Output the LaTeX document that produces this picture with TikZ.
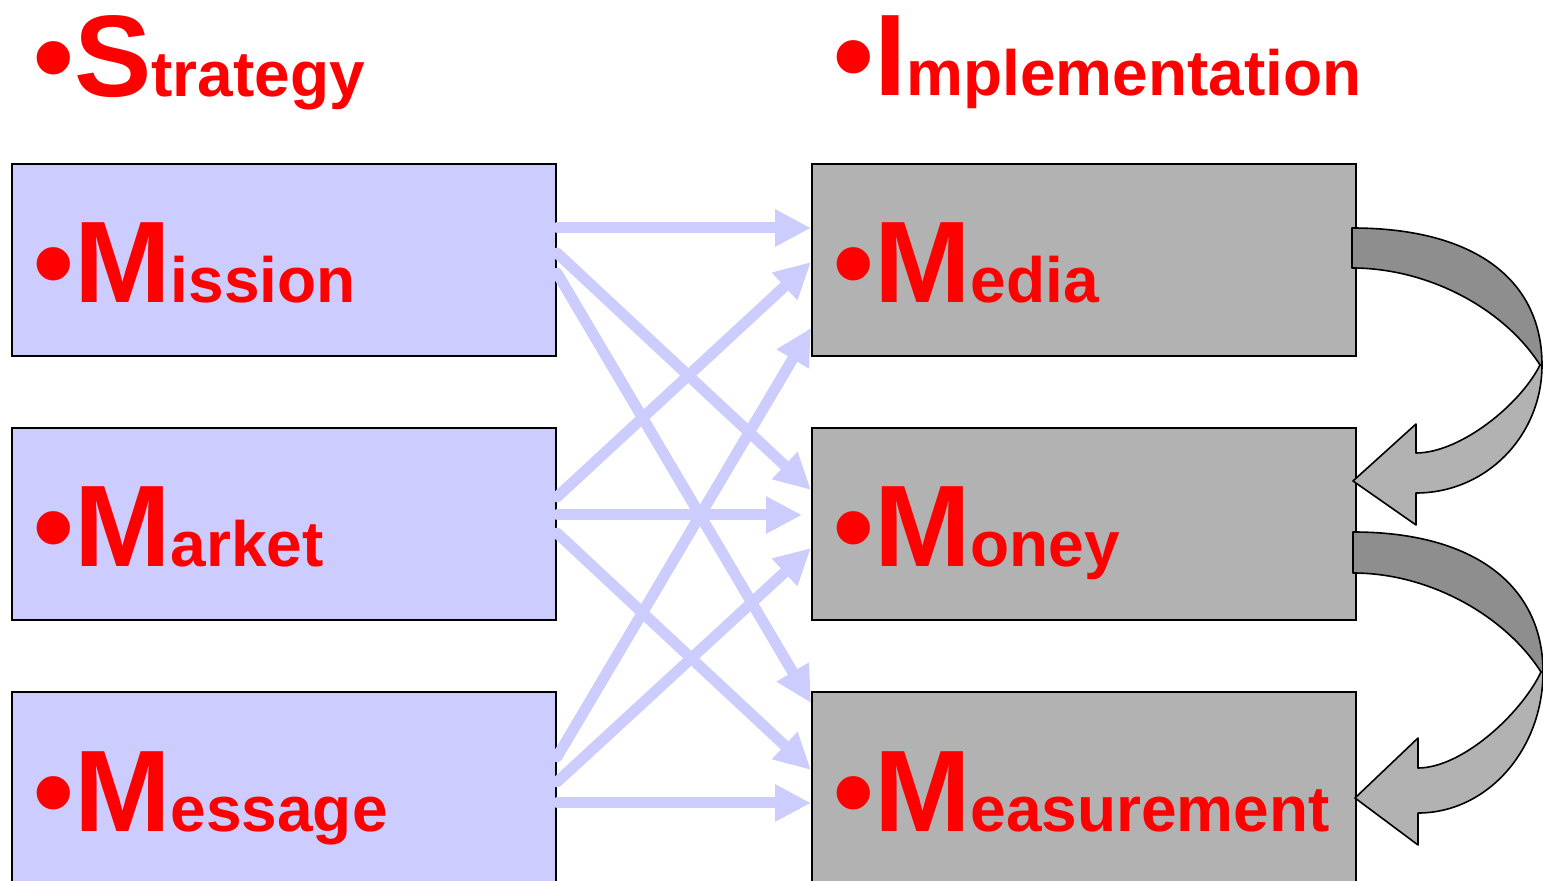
\documentclass[tikz,border=0pt]{standalone}
\usepackage{fontspec}
\setmainfont{Liberation Sans}
\usetikzlibrary{arrows.meta}
\definecolor{stratfill}{HTML}{CCCCFF}
\definecolor{implfill}{HTML}{B2B2B2}
\definecolor{ribbondark}{HTML}{8E8E8E}
\definecolor{txtred}{HTML}{FF0000}
\newcommand{\bigini}[1]{{\fontsize{58pt}{62pt}\selectfont #1}}
\newcommand{\smallrest}[1]{{\fontsize{32pt}{36pt}\selectfont #1}}
\begin{document}
\begin{tikzpicture}[line cap=round,x=0.5pt,y=-0.5pt,
	sbox/.style={draw=black,line width=1pt,fill=stratfill,minimum width=272pt,minimum height=96pt,inner sep=0pt},
	ibox/.style={sbox,fill=implfill},
	word/.style={anchor=base west,inner sep=0pt,text=txtred,font=\bfseries},
	link/.style={draw=stratfill,line width=5.5pt,-{Triangle[length=18pt,width=17.5pt]}},
	ribbon/.style={draw=black,line width=0.8pt,line join=round}]
	\useasboundingbox (0,0) rectangle (1543,881);
	\clip (0,0) rectangle (1543,881);
	% boxes
	\node[sbox] (mission) at (284,260) {};
	\node[sbox] (market) at (284,524) {};
	\node[sbox] (message) at (284,788) {};
	\node[ibox] (media) at (1084,260) {};
	\node[ibox] (money) at (1084,524) {};
	\node[ibox] (measure) at (1084,788) {};
	% words
	\node[word] (strategy) at (33,97) {\bigini{•S}\smallrest{trategy}};
	\node[word] (implement) at (833,96) {\bigini{•I}\smallrest{mplementation}};
	\node[word] (tmission) at (33,303) {\bigini{•M}\smallrest{ission}};
	\node[word] (tmarket) at (33,567) {\bigini{•M}\smallrest{arket}};
	\node[word] (tmessage) at (33,831) {\bigini{•M}\smallrest{essage}};
	\node[word] (tmedia) at (833,303) {\bigini{•M}\smallrest{edia}};
	\node[word] (tmoney) at (833,567) {\bigini{•M}\smallrest{oney}};
	\node[word] (tmeasure) at (833,831) {\bigini{•M}\smallrest{easurement}};
	% links
	\draw[link] ([yshift=16pt]mission.east) -- ([yshift=16pt]media.west);
	\draw[link] ([yshift=3.5pt]mission.east) -- ([yshift=17pt]money.west);
	\draw[link] ([yshift=-6.5pt]mission.east) -- ([yshift=42.5pt]measure.west);
	\draw[link] ([yshift=13.5pt]market.east) -- ([yshift=-1pt]media.west);
	\draw[link] ([yshift=4.5pt]market.east) -- ([xshift=-4.5pt,yshift=4.5pt]money.west);
	\draw[link] ([yshift=-4.5pt]market.east) -- ([yshift=9pt]measure.west);
	\draw[link] ([yshift=15.5pt]message.east) -- ([yshift=-34pt]media.west);
	\draw[link] ([yshift=3pt]message.east) -- ([yshift=-12pt]money.west);
	\draw[link] ([yshift=-7.5pt]message.east) -- ([yshift=-7.5pt]measure.west);
	% media to money
	\draw[ribbon,fill=ribbondark] (1352,228) .. controls (1475,228) and (1542,280) .. (1542,365) -- (1540,365) .. controls (1505,310) and (1430,268) .. (1352,268) -- cycle;
	\draw[ribbon,fill=implfill] (1542,365) .. controls (1542,436) and (1486,493) .. (1416,493) -- (1416,525) -- (1353,481) -- (1416,424) -- (1416,453) .. controls (1460,453) and (1520,405) .. (1540,365) -- cycle;
	% money to measurement
	\draw[ribbon,fill=ribbondark] (1353,532) .. controls (1476,532) and (1543,587) .. (1543,672) -- (1541,672) .. controls (1506,617) and (1431,573) .. (1353,573) -- cycle;
	\draw[ribbon,fill=implfill] (1543,672) .. controls (1543,750) and (1487,813) .. (1418,813) -- (1418,845) -- (1355,798) -- (1418,738) -- (1418,768) .. controls (1462,768) and (1521,714) .. (1541,672) -- cycle;
\end{tikzpicture}
\end{document}
